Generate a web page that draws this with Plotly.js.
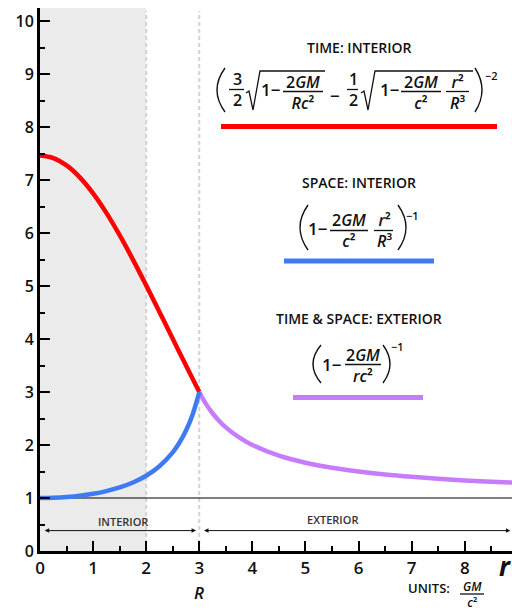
<!DOCTYPE html>
<html>
<head>
<meta charset="utf-8">
<script src="https://cdn.plot.ly/plotly-3.0.1.min.js"></script>
<style>html,body{margin:0;padding:0;background:#fff;}#chart{width:512px;height:612px;}</style>
</head>
<body>
<div id="chart"></div>
<script>
// ---- data ----
var rInterior = [0, 0.25, 0.5, 0.75, 1, 1.25, 1.5, 1.75, 2, 2.25, 2.5, 2.625, 2.75, 2.875, 3];
var timeInterior = [7.464, 7.417, 7.278, 7.053, 6.750, 6.382, 5.961, 5.501, 5.014, 4.513, 4.006, 3.752, 3.501, 3.251, 3.0];
var spaceInterior = [1.0, 1.005, 1.019, 1.043, 1.080, 1.131, 1.200, 1.293, 1.421, 1.600, 1.862, 2.043, 2.274, 2.579, 3.0];
var rExterior = [3, 3.125, 3.25, 3.375, 3.5, 3.75, 4, 4.5, 5, 5.5, 6, 6.5, 7, 7.5, 8, 8.5, 9];
var exterior = [3.0, 2.778, 2.6, 2.455, 2.333, 2.143, 2.0, 1.8, 1.667, 1.571, 1.5, 1.444, 1.4, 1.364, 1.333, 1.308, 1.286];
var xTickVals = [0, 1, 2, 3, 4, 5, 6, 7, 8];
var yTickVals = [0, 1, 2, 3, 4, 5, 6, 7, 8, 9, 10];

var RED = '#ff0000', BLUE = '#3e7bf2', PURPLE = '#c77dfb';
var FONT = 'Open Sans, sans-serif';

// pixel -> paper helpers (plot area: x 40..512, y 8..551)
var L = 40, T = 8, W = 472, H = 543;
function X(px) { return (px - L) / W; }
function Y(py) { return (T + H - py) / H; }

var annotations = [];
var shapes = [];

function txt(px, py, text, size, opts) {
  opts = opts || {};
  annotations.push({
    xref: 'paper', yref: 'paper', x: X(px), y: Y(py),
    xanchor: opts.xanchor || 'center', yanchor: 'middle',
    text: text, showarrow: false, borderpad: 0,
    font: {family: FONT, size: size, color: opts.color || '#111', weight: opts.weight || 600}
  });
}
function hline(x0, x1, py, w, color) {
  shapes.push({type: 'line', xref: 'paper', yref: 'paper', x0: X(x0), x1: X(x1), y0: Y(py), y1: Y(py),
    line: {color: color || '#111', width: w || 1.3}, layer: 'above'});
}
function pathPx(pts, w) {
  var d = '';
  pts.forEach(function (p, i) { d += (i ? ' L ' : 'M ') + X(p[0]) + ',' + Y(p[1]); });
  shapes.push({type: 'path', xref: 'paper', yref: 'paper', path: d, line: {color: '#111', width: w || 1.3}, layer: 'above'});
}
function paren(xEnd, xApex, top, bot) {
  var cx = xApex + (xApex - xEnd);
  var mid = (top + bot) / 2;
  var d = 'M ' + X(xEnd) + ',' + Y(top) + ' Q ' + X(cx) + ',' + Y(mid) + ' ' + X(xEnd) + ',' + Y(bot);
  shapes.push({type: 'path', xref: 'paper', yref: 'paper', path: d, line: {color: '#111', width: 1.4}, layer: 'above'});
}
// a fraction: one two-line text centred on the bar
function frac(cx, barY, x0, x1, num, den, size) {
  txt(cx, barY + 0.5, num + '<br>' + den, size);
  hline(x0, x1, barY, 1.3);
}

// ---- headings ----
txt(359, 47, 'TIME: INTERIOR', 14);
txt(359, 183, 'SPACE: INTERIOR', 14);
txt(359, 318.5, 'TIME &amp; SPACE: EXTERIOR', 14);

// ---- formula 1 ----
paren(225, 217, 68, 112);
frac(237, 89.5, 229, 244, '3', '2', 16);
pathPx([[246, 93], [249, 91], [253, 110], [260, 71], [325, 71]], 1.3);
txt(281, 90, '1−', 17, {xanchor: 'right'});
frac(303, 91.5, 283, 323, '2<i>GM</i>', '<i>Rc</i>²', 16);
txt(335, 95, '−', 17);
frac(353, 89.5, 347, 358, '1', '2', 16);
pathPx([[361, 93], [364, 91], [368, 110], [375, 71], [473, 71]], 1.3);
txt(400, 90, '1−', 17, {xanchor: 'right'});
frac(421, 91.5, 401, 441, '2<i>GM</i>', '<i>c</i>²', 16);
frac(457, 91.5, 446, 469, '<i>r</i>²', '<i>R</i>³', 16);
paren(475, 482, 68, 112);
txt(491, 75, '−2', 11);

// ---- formula 2 ----
paren(308, 300, 205, 250);
txt(328, 229, '1−', 17, {xanchor: 'right'});
frac(349, 230.5, 330, 368, '2<i>GM</i>', '<i>c</i>²', 16);
frac(384, 230.5, 374, 393, '<i>r</i>²', '<i>R</i>³', 16);
paren(398, 406, 205, 250);
txt(412, 215, '−1', 11);

// ---- formula 3 ----
paren(321, 313, 345, 383);
txt(342, 364, '1−', 17, {xanchor: 'right'});
frac(363, 364.5, 345, 381, '2<i>GM</i>', '<i>rc</i>²', 16);
paren(383, 390, 345, 383);
txt(397, 346, '−1', 11);

// ---- legend bars ----
hline(221, 497, 126.5, 5, RED);
hline(284, 434, 261, 5, BLUE);
hline(293, 423, 397.5, 5, PURPLE);

// ---- axis labels / units ----
txt(199, 592, '<i>R</i>', 17);
txt(505, 566, '<b><i>r</i></b>', 26, {weight: 700});
txt(451, 588, 'UNITS:', 13, {xanchor: 'right'});
frac(472, 594, 460, 484, '<i>GM</i>', '<i>c</i>²', 12);

// ---- region labels and arrows ----
annotations.push({xref: 'x', yref: 'y', x: 1.57, y: 0.56, text: 'INTERIOR', showarrow: false,
  font: {family: FONT, size: 11, color: '#333', weight: 600}, yanchor: 'middle'});
annotations.push({xref: 'x', yref: 'y', x: 5.5, y: 0.6, text: 'EXTERIOR', showarrow: false,
  font: {family: FONT, size: 11, color: '#333', weight: 600}, yanchor: 'middle'});
annotations.push({xref: 'x', yref: 'y', axref: 'x', ayref: 'y', x: 2.94, y: 0.385, ax: 0.06, ay: 0.385,
  text: '', showarrow: true, arrowhead: 2, arrowside: 'end+start', arrowsize: 0.9, arrowwidth: 1, arrowcolor: '#111'});
annotations.push({xref: 'x', yref: 'y', axref: 'x', ayref: 'y', x: 8.86, y: 0.385, ax: 3.06, ay: 0.385,
  text: '', showarrow: true, arrowhead: 2, arrowside: 'end+start', arrowsize: 0.9, arrowwidth: 1, arrowcolor: '#111'});

// ---- background shapes ----
var bg = [
  {type: 'rect', xref: 'x', yref: 'y', x0: 0, x1: 2, y0: 0, y1: 10.25, fillcolor: '#ebebeb', line: {width: 0}, layer: 'below'},
  {type: 'line', xref: 'x', yref: 'y', x0: 2, x1: 2, y0: 0, y1: 10.2, line: {color: '#d2d2d2', width: 2, dash: '4px,3px'}, layer: 'below'},
  {type: 'line', xref: 'x', yref: 'y', x0: 3, x1: 3, y0: 0, y1: 10.2, line: {color: '#d2d2d2', width: 2, dash: '4px,3px'}, layer: 'below'},
  {type: 'line', xref: 'x', yref: 'y', x0: 0, x1: 8.89, y0: 1, y1: 1, line: {color: '#000', width: 1.2}, layer: 'below'}
];
shapes = bg.concat(shapes);

var traces = [
  {x: rInterior, y: timeInterior, mode: 'lines', line: {color: RED, width: 4.5, shape: 'spline'}, hoverinfo: 'skip'},
  {x: rExterior, y: exterior, mode: 'lines', line: {color: PURPLE, width: 4.5, shape: 'spline'}, hoverinfo: 'skip'},
  {x: rInterior, y: spaceInterior, mode: 'lines', line: {color: BLUE, width: 4.5, shape: 'spline'}, hoverinfo: 'skip'}
];

var layout = {
  width: 512, height: 612,
  margin: {l: L, r: 0, t: T, b: 612 - T - H, pad: 0},
  paper_bgcolor: '#fff', plot_bgcolor: 'rgba(0,0,0,0)',
  showlegend: false,
  xaxis: {range: [0, 8.89], showgrid: false, zeroline: false, showline: true, linewidth: 3, linecolor: '#000',
    tickmode: 'array', tickvals: xTickVals, ticks: 'inside', ticklen: 10, tickwidth: 2, tickcolor: '#000',
    minor: {ticks: 'inside', ticklen: 5, tickwidth: 2, tickcolor: '#000', dtick: 0.5, tick0: 0, showgrid: false},
    tickfont: {family: FONT, size: 17, color: '#111', weight: 600}, fixedrange: true},
  yaxis: {range: [0, 10.25], showgrid: false, zeroline: false, showline: true, linewidth: 3, linecolor: '#000',
    tickmode: 'array', tickvals: yTickVals, ticks: 'inside', ticklen: 10, tickwidth: 2, tickcolor: '#000',
    minor: {ticks: 'inside', ticklen: 5, tickwidth: 2, tickcolor: '#000', dtick: 0.5, tick0: 0, showgrid: false},
    tickfont: {family: FONT, size: 16, color: '#111', weight: 600}, fixedrange: true},
  shapes: shapes,
  annotations: annotations
};

Plotly.newPlot('chart', traces, layout, {displayModeBar: false, staticPlot: true});
</script>
</body>
</html>
